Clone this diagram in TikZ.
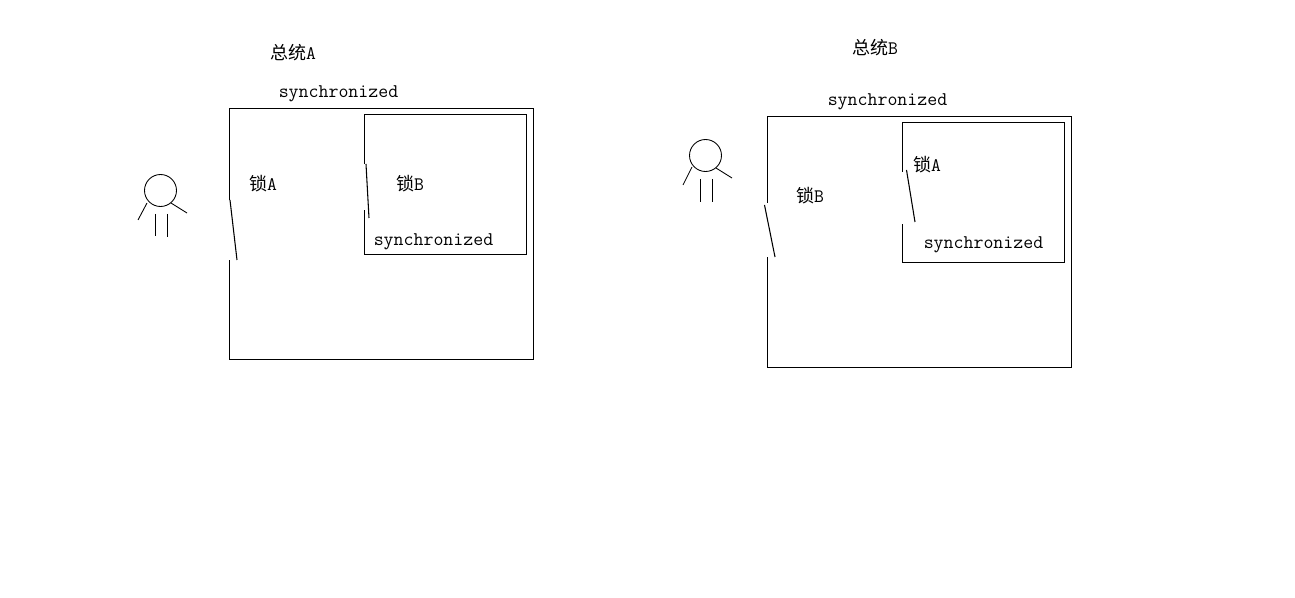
\documentclass[tikz,border=0pt]{standalone}
\usepackage{fontspec}
\newfontfamily\cjk{Noto Sans CJK SC}
\setmonofont{Latin Modern Mono}
\tikzset{
  wall/.style={line width=0.8pt},
  person/.style={line width=0.65pt},
  keyword/.style={inner sep=0pt,text height=9pt,text depth=3pt,font=\fontsize{14.5pt}{16pt}\ttfamily},
  locklabel/.style={inner sep=0pt,text height=11pt,text depth=2pt,font=\fontsize{14.3pt}{17pt}\ttfamily}
}
\newcommand{\hanzi}[1]{{\fontsize{13.5pt}{17pt}\cjk #1}}
\begin{document}
\begin{tikzpicture}[x=0.75pt,y=-0.75pt]
  \useasboundingbox (0,0) rectangle (1295,598);
  \node [locklabel] (titleA) at (293,53.5) {\hanzi{总统}A};
  \node [keyword] (syncOuterA) at (338.5,94) {synchronized};
  \node [locklabel] (lockOuterA) at (263,185) {\hanzi{锁}A};
  \node [locklabel] (lockInnerB) at (410,185) {\hanzi{锁}B};
  \node [keyword] (syncInnerA) at (433.5,242) {synchronized};
  \draw [wall] (229.5,200)--(229.5,108.5)--(533.5,108.5)--(533.5,359.5)--(229.5,359.5)--(229.5,260);
  \draw [wall] (230,200)--(237,260);
  \draw [wall] (364.5,164)--(364.5,114.5)--(526.5,114.5)--(526.5,254.5)--(364.5,254.5)--(364.5,210);
  \draw [wall] (366,164)--(369,218);
  \draw [person] (160.5,190.5) circle (16);
  \draw [person] (147,203)--(138,220);
  \draw [person] (171,203)--(187,213);
  \draw [person] (155.5,214)--(155.5,236);
  \draw [person] (167.5,214)--(167.5,237);
  \node [locklabel] (titleB) at (875,48.5) {\hanzi{总统}B};
  \node [keyword] (syncOuterB) at (887.5,102) {synchronized};
  \node [locklabel] (lockOuterB) at (810,197) {\hanzi{锁}B};
  \node [locklabel] (lockInnerA) at (927,166) {\hanzi{锁}A};
  \node [keyword] (syncInnerB) at (983.5,245) {synchronized};
  \draw [wall] (767.5,203)--(767.5,116.5)--(1071.5,116.5)--(1071.5,367.5)--(767.5,367.5)--(767.5,257);
  \draw [wall] (764.5,205)--(775,257);
  \draw [wall] (902.5,172)--(902.5,122.5)--(1064.5,122.5)--(1064.5,262.5)--(902.5,262.5)--(902.5,224);
  \draw [wall] (906.5,170)--(915,222);
  \draw [person] (705.5,155.5) circle (16);
  \draw [person] (692,167)--(683,185);
  \draw [person] (716,168)--(732,178);
  \draw [person] (700.5,179)--(700.5,202);
  \draw [person] (712.5,179)--(712.5,202);
\end{tikzpicture}
\end{document}
